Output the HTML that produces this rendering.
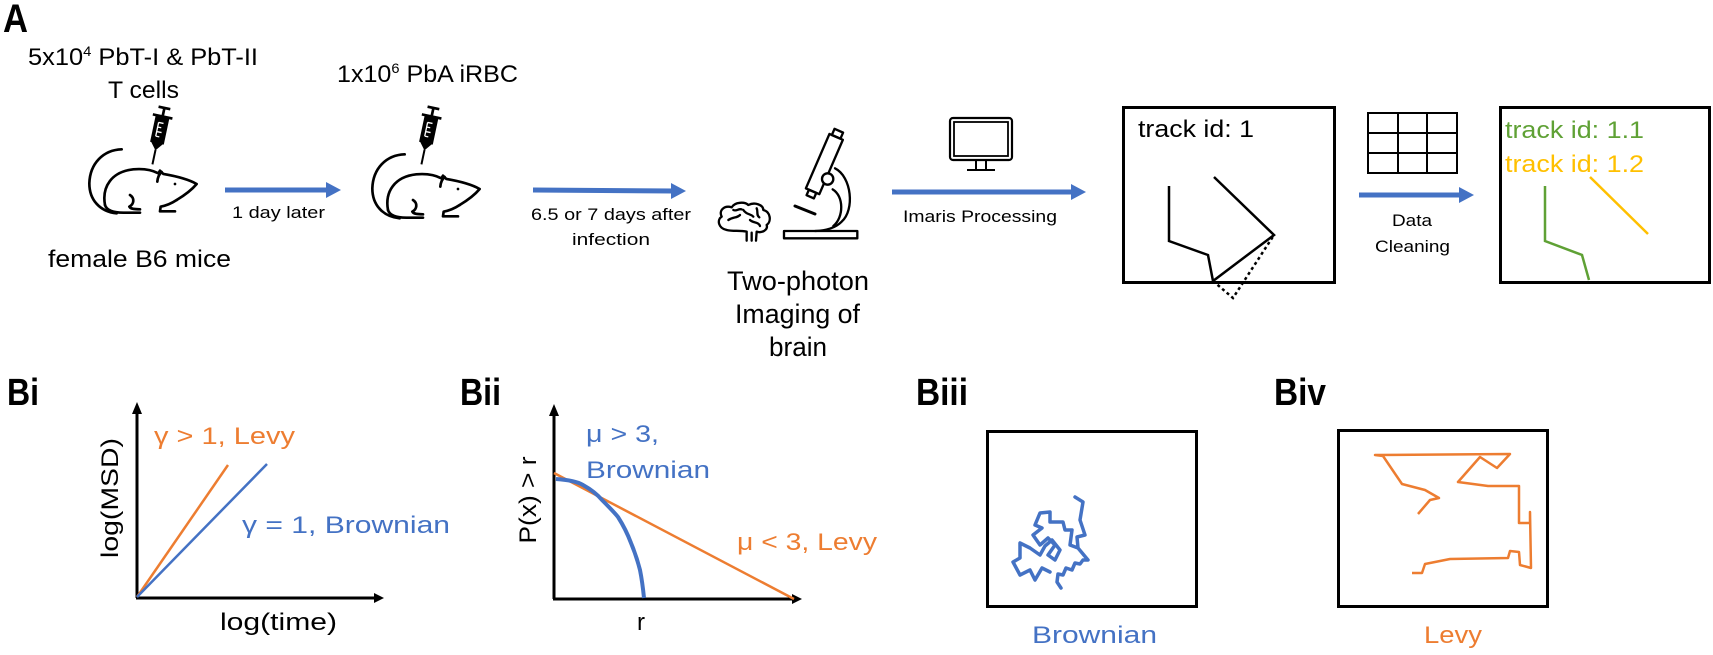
<!DOCTYPE html>
<html><head><meta charset="utf-8"><style>
html,body{margin:0;padding:0;background:#fff;}
svg{display:block;}
text{font-family:"Liberation Sans",sans-serif;}
</style></head><body>
<svg width="1713" height="655" viewBox="0 0 1713 655" xmlns="http://www.w3.org/2000/svg">
<defs>
<g id="mouse" fill="none" stroke="#000" stroke-width="8" stroke-linecap="round" stroke-linejoin="round">
<path d="M125,148 C70,150 30,190 28,250 C28,300 60,335 110,340"/>
<path d="M75,315 C65,260 95,215 160,208 C195,205 220,212 235,220 L240,212 L250,222 C285,228 325,238 350,252 C335,270 310,288 290,300"/>
<path d="M75,315 C80,332 100,338 130,338 L180,338"/>
<path d="M150,285 C165,295 162,312 148,320 C152,328 168,328 180,328"/>
<path d="M290,300 C275,310 262,316 242,320 L240,334 L285,334"/>
<path d="M232,245 C233,232 238,222 245,216"/>
<circle cx="285" cy="252" r="4" fill="#000" stroke="none"/>
</g>
<g id="syr">
<g transform="rotate(12 235 110)">
<path d="M217,22 L253,22 M235,22 L235,46 M205,48 L265,48" stroke="#000" stroke-width="8" fill="none"/>
<rect x="214" y="50" width="42" height="80" fill="#000"/>
<path d="M227,68 L242,68 M227,82 L238,82 M227,96 L242,96 M227,110 L238,110 M227,68 L227,110" stroke="#fff" stroke-width="4"/>
<polygon points="216,128 254,128 235,152" fill="#000"/>
<path d="M235,150 L235,195" stroke="#000" stroke-width="6"/>
</g>
</g>
</defs>

<!-- Panel A -->
<text x="3" y="32" font-size="40" font-weight="bold" textLength="25" lengthAdjust="spacingAndGlyphs">A</text>
<text x="28" y="65" font-size="24" textLength="230" lengthAdjust="spacingAndGlyphs">5x10<tspan font-size="14" dy="-9">4</tspan><tspan dy="9"> PbT-I &amp; PbT-II</tspan></text>
<text x="108" y="98" font-size="24" textLength="71" lengthAdjust="spacingAndGlyphs">T cells</text>
<g transform="translate(80,100) scale(0.3333)"><use href="#mouse"/><use href="#syr"/></g>
<text x="48" y="267" font-size="24" textLength="183" lengthAdjust="spacingAndGlyphs">female B6 mice</text>

<line x1="225" y1="190" x2="328" y2="190" stroke="#4472C4" stroke-width="5"/>
<polygon points="326,182 341,190 326,198" fill="#4472C4"/>
<text x="232" y="218" font-size="17" textLength="93" lengthAdjust="spacingAndGlyphs">1 day later</text>

<text x="337" y="82" font-size="24" textLength="181" lengthAdjust="spacingAndGlyphs">1x10<tspan font-size="14" dy="-9">6</tspan><tspan dy="9"> PbA iRBC</tspan></text>
<g transform="translate(363,105) scale(0.3333)"><use href="#mouse"/></g>
<g transform="translate(349,100) scale(0.3333)"><use href="#syr"/></g>

<line x1="533" y1="190" x2="673" y2="191" stroke="#4472C4" stroke-width="5"/>
<polygon points="671,183 686,191 671,199" fill="#4472C4"/>
<text x="531" y="220" font-size="17" textLength="160" lengthAdjust="spacingAndGlyphs">6.5 or 7 days after</text>
<text x="572" y="245" font-size="17" textLength="78" lengthAdjust="spacingAndGlyphs">infection</text>

<!-- brain + microscope -->
<g transform="translate(700,120) scale(0.3333)" fill="none" stroke="#000" stroke-width="7" stroke-linecap="round" stroke-linejoin="round">
<path d="M80,330 C55,325 50,300 65,290 C55,270 75,255 95,262 C105,245 135,245 145,255 C165,245 190,255 190,270 C212,275 215,305 200,315 C205,330 185,340 170,335 L168,362 M140,335 L140,362 M155,338 L155,362 M80,330 C100,335 120,330 140,335"/>
<path d="M85,300 C100,290 110,295 120,285 M130,270 C140,285 150,280 160,290 M150,300 C160,310 175,305 180,318 M100,270 C110,275 115,265 125,268 M170,265 C175,275 168,285 178,292"/>
<rect x="252" y="333" width="220" height="22"/>
<g transform="translate(372,135) rotate(23.4)">
<rect x="-22" y="-92" width="44" height="178"/>
<rect x="-14" y="-112" width="28" height="20"/>
<rect x="-12" y="86" width="24" height="18"/>
</g>
<circle cx="383" cy="177" r="17" fill="#fff"/>
<path d="M405,145 C455,170 465,270 425,305 C405,325 375,332 345,333"/>
<path d="M398,208 C432,228 432,292 400,318"/>
<path d="M285,258 L345,282" stroke-width="9"/>
</g>
<text x="727" y="290" font-size="27" textLength="142" lengthAdjust="spacingAndGlyphs">Two-photon</text>
<text x="735" y="323" font-size="27" textLength="125" lengthAdjust="spacingAndGlyphs">Imaging of</text>
<text x="769" y="356" font-size="27" textLength="58" lengthAdjust="spacingAndGlyphs">brain</text>

<!-- monitor -->
<rect x="950" y="118" width="62" height="42" rx="3" fill="none" stroke="#000" stroke-width="2.2"/>
<rect x="954" y="122" width="54" height="34" fill="none" stroke="#000" stroke-width="1.8"/>
<path d="M976,160 L976,169 M986,160 L986,169 M967,170 L995,170" stroke="#000" stroke-width="2"/>
<line x1="892" y1="192" x2="1073" y2="192" stroke="#4472C4" stroke-width="5"/>
<polygon points="1071,184 1086,192 1071,200" fill="#4472C4"/>
<text x="903" y="222" font-size="17" textLength="154" lengthAdjust="spacingAndGlyphs">Imaris Processing</text>

<!-- box 1 -->
<rect x="1123.5" y="107.5" width="211" height="175" fill="none" stroke="#000" stroke-width="3"/>
<text x="1138" y="137" font-size="24" textLength="116" lengthAdjust="spacingAndGlyphs">track id: 1</text>
<polyline points="1169,186 1169,241 1208,255 1213,281 1274,235 1214,177" fill="none" stroke="#000" stroke-width="2.5"/>
<polyline points="1213,281 1233,298 1274,235" fill="none" stroke="#000" stroke-width="2.5" stroke-dasharray="3,3"/>

<!-- grid -->
<g fill="none" stroke="#000" stroke-width="2">
<rect x="1368" y="113" width="89" height="60"/>
<path d="M1398,113 L1398,173 M1427,113 L1427,173 M1368,133 L1457,133 M1368,153 L1457,153"/>
</g>
<line x1="1359" y1="195" x2="1461" y2="195" stroke="#4472C4" stroke-width="5"/>
<polygon points="1459,187 1474,195 1459,203" fill="#4472C4"/>
<text x="1392" y="226" font-size="17" textLength="40" lengthAdjust="spacingAndGlyphs">Data</text>
<text x="1375" y="252" font-size="17" textLength="75" lengthAdjust="spacingAndGlyphs">Cleaning</text>

<!-- box 2 -->
<rect x="1500.5" y="107.5" width="209" height="175" fill="none" stroke="#000" stroke-width="3"/>
<text x="1505" y="138" font-size="24" fill="#5FA135" textLength="139" lengthAdjust="spacingAndGlyphs">track id: 1.1</text>
<text x="1505" y="172" font-size="24" fill="#FFC000" textLength="139" lengthAdjust="spacingAndGlyphs">track id: 1.2</text>
<polyline points="1545,186 1545,241 1582,255 1589,280" fill="none" stroke="#5FA135" stroke-width="2.5"/>
<line x1="1590" y1="177" x2="1648" y2="234" stroke="#FFC000" stroke-width="2.5"/>

<!-- Bi -->
<text x="7" y="405" font-size="38" font-weight="bold" textLength="32" lengthAdjust="spacingAndGlyphs">Bi</text>
<g stroke="#000" stroke-width="3" fill="none">
<line x1="137" y1="598" x2="137" y2="412"/>
<line x1="136" y1="598" x2="376" y2="598"/>
</g>
<polygon points="132,414 137,402 142,414" fill="#000"/>
<polygon points="374,593 384,598 374,603" fill="#000"/>
<line x1="137" y1="597" x2="228" y2="465" stroke="#ED7D31" stroke-width="2.5"/>
<line x1="137" y1="597" x2="267" y2="464" stroke="#4472C4" stroke-width="2.5"/>
<text x="154" y="444" font-size="24" fill="#ED7D31" textLength="141" lengthAdjust="spacingAndGlyphs">γ &gt; 1, Levy</text>
<text x="242" y="533" font-size="24" fill="#4472C4" textLength="208" lengthAdjust="spacingAndGlyphs">γ = 1, Brownian</text>
<text transform="translate(118,498) rotate(-90)" text-anchor="middle" font-size="24" textLength="120" lengthAdjust="spacingAndGlyphs">log(MSD)</text>
<text x="220" y="630" font-size="24" textLength="117" lengthAdjust="spacingAndGlyphs">log(time)</text>

<!-- Bii -->
<text x="460" y="405" font-size="38" font-weight="bold" textLength="41" lengthAdjust="spacingAndGlyphs">Bii</text>
<g stroke="#000" stroke-width="3" fill="none">
<line x1="554" y1="599" x2="554" y2="414"/>
<line x1="553" y1="599" x2="794" y2="599"/>
</g>
<polygon points="549,416 554,404 559,416" fill="#000"/>
<polygon points="792,594 802,599 792,604" fill="#000"/>
<line x1="554" y1="473" x2="794" y2="599" stroke="#ED7D31" stroke-width="2.5"/>
<path d="M556,479 C570,480 578,482 583,485 C592,490 597,494 602,500 C610,508 614,512 618,517 C625,528 628,535 631,543 C636,555 638,562 640,570 C642,580 643,588 644,598" fill="none" stroke="#4472C4" stroke-width="4"/>
<text x="586" y="442" font-size="24" fill="#4472C4" textLength="73" lengthAdjust="spacingAndGlyphs">μ &gt; 3,</text>
<text x="586" y="478" font-size="24" fill="#4472C4" textLength="124" lengthAdjust="spacingAndGlyphs">Brownian</text>
<text x="737" y="550" font-size="24" fill="#ED7D31" textLength="140" lengthAdjust="spacingAndGlyphs">μ &lt; 3, Levy</text>
<text transform="translate(536,500) rotate(-90)" text-anchor="middle" font-size="24" textLength="87" lengthAdjust="spacingAndGlyphs">P(x) &gt; r</text>
<text x="641" y="630" font-size="24" text-anchor="middle">r</text>

<!-- Biii -->
<text x="916" y="405" font-size="38" font-weight="bold" textLength="52" lengthAdjust="spacingAndGlyphs">Biii</text>
<rect x="987.5" y="431.5" width="209" height="175" fill="none" stroke="#000" stroke-width="3"/>
<path d="M1075,497 L1083,502 L1080,520 L1085,535 L1077,537 L1078,548 L1088,560 L1083,560 L1080,564 L1075,563 L1072,570 L1066,568 L1063,575 L1058,574 L1057,582 L1061,588 M1078,548 L1070,545 L1072,530 L1065,530 L1063,522 L1050,522 L1050,512 L1040,513 L1035,525 L1042,528 L1033,535 L1040,545 L1048,538 L1055,545 L1048,555 L1055,560 L1060,550 L1052,540 L1045,546 L1040,555 L1030,548 L1020,543 L1020,558 L1013,562 L1020,575 L1030,570 L1035,580 L1042,568 L1050,572" fill="none" stroke="#4472C4" stroke-width="3.5" stroke-linejoin="round" stroke-linecap="round"/>
<text x="1032" y="643" font-size="24" fill="#4472C4" textLength="125" lengthAdjust="spacingAndGlyphs">Brownian</text>

<!-- Biv -->
<text x="1274" y="405" font-size="38" font-weight="bold" textLength="52" lengthAdjust="spacingAndGlyphs">Biv</text>
<rect x="1338.5" y="430.5" width="209" height="176" fill="none" stroke="#000" stroke-width="3"/>
<polyline points="1418,514 1430,500 1439,498 1425,490 1402,484 1383,456 1375,455 1510,454 1497,468 1480,457 1458,482 1488,486 1519,486 1519,523 1530,523 1530,512 1531,568 1520,565 1519,552 1510,551 1508,558 1450,559 1425,564 1422,573 1412,573" fill="none" stroke="#ED7D31" stroke-width="2.5" stroke-linejoin="round"/>
<text x="1424" y="643" font-size="24" fill="#ED7D31" textLength="58" lengthAdjust="spacingAndGlyphs">Levy</text>
</svg>
</body></html>
